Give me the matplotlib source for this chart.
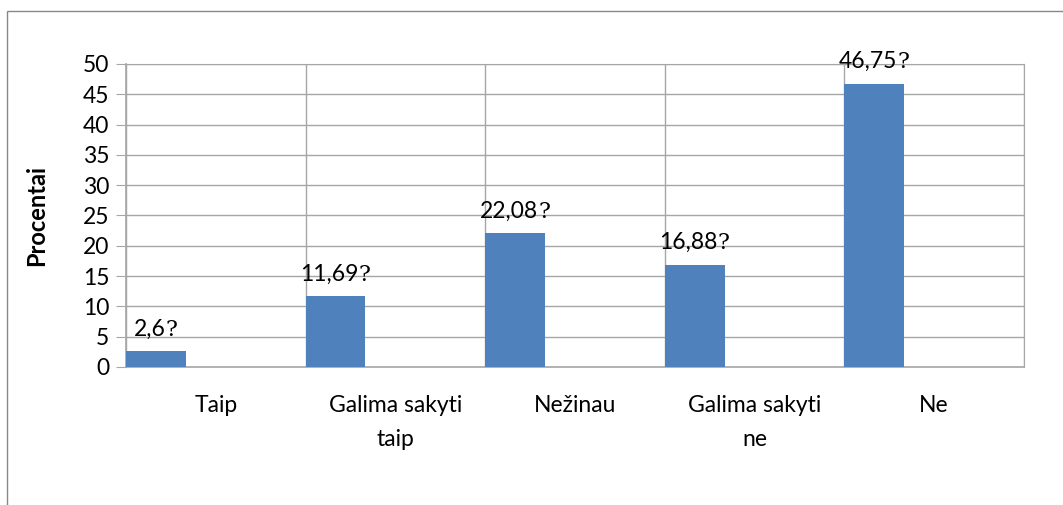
import matplotlib as mpl
import matplotlib.pyplot as plt
from matplotlib.offsetbox import TextArea, HPacker, AnnotationBbox
from matplotlib.patches import Rectangle

mpl.rcParams.update({"font.family": ["Lato", "DejaVu Sans"]})

categories = ["Taip", "Galima sakyti\ntaip", "Nežinau", "Galima sakyti\nne", "Ne"]
values = [2.6, 11.69, 22.08, 16.88, 46.75]
value_labels = ["2,6", "11,69", "22,08", "16,88", "46,75"]

BAR = "#4F81BD"
GRID = "#A6A6A6"

fig = plt.figure(figsize=(10.63, 5.05), dpi=100)
ax = fig.add_axes([0.1185, 0.2733, 0.8448, 0.6000])

# outer chart frame (only left/top visible in the crop)
fig.patches.append(Rectangle((7 / 1063, -0.1), 1.2, 1 - 11 / 505 + 0.1,
                             transform=fig.transFigure, fill=False,
                             edgecolor="#888888", linewidth=1.0))

n = len(categories)
x = list(range(n))
ax.bar(x, values, width=1 / 3, align="edge", color=BAR, zorder=3)

ax.set_xlim(0, n)
ax.set_ylim(0, 50)
ax.set_yticks(range(0, 51, 5))
ax.set_xticks(range(0, n + 1))
ax.set_xticklabels([])
ax.set_xticks([i + 0.5 for i in x], minor=True)
ax.set_xticklabels(categories, minor=True, fontsize=16.5, linespacing=1.75, va="top")
ax.tick_params(axis="x", which="both", length=0)
ax.tick_params(axis="x", which="minor", pad=20)
ax.tick_params(axis="y", length=7, color=GRID, labelsize=16.5, pad=5)

ax.grid(True, axis="both", which="major", color=GRID, linewidth=1.0, zorder=0)
ax.set_axisbelow(True)
for s in ["top", "right"]:
    ax.spines[s].set_color(GRID)
for s in ["left", "bottom"]:
    ax.spines[s].set_color(GRID)
    ax.spines[s].set_linewidth(1.2)

ax.set_ylabel("Procentai", fontsize=17, fontweight="bold")
ax.yaxis.set_label_coords(-0.087, 0.5)

# value labels: number in sans, trailing "?" in a serif face
for i, (v, lab) in enumerate(zip(values, value_labels)):
    box = HPacker(children=[
        TextArea(lab, textprops=dict(fontsize=16.5, color="black")),
        TextArea("?", textprops=dict(fontsize=16, color="black",
                                     family="DejaVu Serif")),
    ], align="baseline", pad=0, sep=0)
    ab = AnnotationBbox(box, (i + 1 / 6, v), xybox=(0, 7.5),
                        xycoords="data", boxcoords="offset points",
                        box_alignment=(0.5, 0), frameon=False, zorder=5,
                        annotation_clip=False)
    ax.add_artist(ab)

fig.savefig("out.png", dpi=100)
